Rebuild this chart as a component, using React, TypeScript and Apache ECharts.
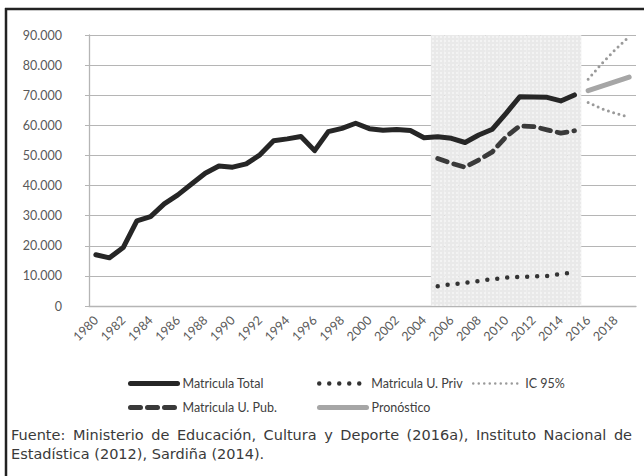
import React, { useEffect, useRef } from "react";
import * as echarts from "echarts";

const years: string[] = [];
for (let y = 1980; y <= 2019; y++) years.push(String(y));

const totalValues = [
  17000, 16000, 19400, 28300, 29700, 33900, 36900, 40500, 44100, 46500,
  46100, 47200, 50200, 54900, 55500, 56300, 51600, 57900, 59000, 60700,
  58900, 58400, 58600, 58300, 55900, 56200, 55700, 54300, 56800, 58700,
  64000, 69500, 69400, 69300, 68100, 70100,
];
const pubYears = ["2005", "2006", "2007", "2008", "2009", "2010", "2011", "2012", "2013", "2014", "2015"];
const pubValues = [49000, 47400, 46100, 48500, 51200, 56200, 59800, 59600, 58500, 57400, 58200];
const privValues = [6600, 7200, 7700, 8300, 8900, 9400, 9700, 9800, 10000, 10600, 11200];
const forecastYears = ["2016", "2017", "2018", "2019"];
const forecastValues = [71500, 73000, 74500, 76000];
const icUpperValues = [75300, 80500, 85200, 89500];
const icLowerValues = [67600, 65500, 64000, 62700];
const shadedYears = pubYears;
const shadeTop = 90000;

const sourceLine1 =
  "Fuente: Ministerio de Educación, Cultura y Deporte (2016a), Instituto Nacional de";
const sourceLine2 = "Estadística (2012), Sardiña (2014).";

function mapTo(yrs: string[], vals: number[]) {
  return years.map((y) => {
    const i = yrs.indexOf(y);
    return i >= 0 ? vals[i] : "-";
  });
}

const SRC_FONT = "DejaVu Sans";
const SRC_SIZE = 14.5;
const SRC_COLOR = "#3a3a3a";

function justifiedWords(text: string, x0: number, x1: number, y: number) {
  const canvas = document.createElement("canvas");
  const ctx = canvas.getContext("2d")!;
  ctx.font = `${SRC_SIZE}px "${SRC_FONT}"`;
  const words = text.split(" ");
  const widths = words.map((w) => ctx.measureText(w).width);
  const total = widths.reduce((a, b) => a + b, 0);
  const gap = (x1 - x0 - total) / (words.length - 1);
  let x = x0;
  return words.map((w, i) => {
    const el = {
      type: "text",
      x,
      y,
      style: {
        text: w,
        fontSize: SRC_SIZE,
        fontFamily: SRC_FONT,
        fill: SRC_COLOR,
        verticalAlign: "middle",
      },
    };
    x += widths[i] + gap;
    return el;
  });
}

export default function App() {
  const ref = useRef<HTMLDivElement>(null);
  useEffect(() => {
    if (!ref.current) return;
    const chart = echarts.init(ref.current, undefined, { renderer: "svg" });
    const totalData = years.map((_, i) => (i < totalValues.length ? totalValues[i] : "-"));
    const legendText = { color: "#404040", fontSize: 12.5, fontFamily: "Lato" };
    const mkLegend = (name: string, left: number, top: number, lw: number) => ({
      data: [name],
      left,
      top,
      padding: 0,
      itemWidth: 47,
      itemHeight: 10,
      textStyle: legendText,
      selectedMode: false,
      lineStyle: { width: lw },
      itemStyle: { opacity: 0 },
    });
    chart.setOption({
      animation: false,
      backgroundColor: "#ffffff",
      grid: { left: 89, right: 8, top: 35, bottom: 170 },
      xAxis: {
        type: "category",
        data: years,
        boundaryGap: true,
        axisLine: { lineStyle: { color: "#b5b5b5", width: 1.3 } },
        axisTick: { interval: 0, length: 4, lineStyle: { color: "#b5b5b5" } },
        axisLabel: {
          interval: 1,
          rotate: 45,
          color: "#595959",
          fontSize: 12.5,
          fontFamily: "Lato",
          margin: 12,
        },
      },
      yAxis: {
        type: "value",
        min: 0,
        max: 90000,
        interval: 10000,
        axisLine: { show: true, lineStyle: { color: "#b5b5b5", width: 1.3 } },
        axisTick: { show: true, length: 4, lineStyle: { color: "#b5b5b5" } },
        splitLine: { lineStyle: { color: "#b5b5b5", width: 1.2 } },
        axisLabel: {
          color: "#595959",
          fontSize: 12.5,
          fontFamily: "Lato",
          margin: 27,
          formatter: (v: number) => (v === 0 ? "0" : v / 1000 + ".000"),
        },
      },
      legend: [
        mkLegend("Matricula Total", 128, 377, 5),
        mkLegend("Matricula U. Priv", 317, 377, 4.5),
        mkLegend("IC 95%", 472, 377, 2.5),
        mkLegend("Matricula U. Pub.", 128, 401, 5),
        mkLegend("Pronóstico", 317, 401, 5),
      ],
      series: [
        {
          name: "shade",
          type: "bar",
          data: mapTo(shadedYears, shadedYears.map(() => shadeTop)),
          barCategoryGap: "0%",
          barGap: "-100%",
          silent: true,
          z: 0,
          itemStyle: {
            color: "#e9e9e9",
            decal: {
              symbol: "rect",
              symbolSize: 1,
              color: "rgba(255,255,255,0.45)",
              dashArrayX: [[2, 2]],
              dashArrayY: [2, 2],
              rotation: 0,
            },
          },
        },
        {
          name: "Matricula Total",
          type: "line",
          data: totalData,
          symbol: "none",
          z: 5,
          lineStyle: { color: "#262626", width: 5, join: "round", cap: "round" },
          itemStyle: { color: "#262626" },
        },
        {
          name: "Matricula U. Priv",
          type: "line",
          data: mapTo(pubYears, privValues),
          symbol: "none",
          z: 5,
          lineStyle: { color: "#333333", width: 4.5, type: [0, 10], cap: "round", join: "round" },
          itemStyle: { color: "#333333" },
        },
        {
          name: "IC 95%",
          type: "line",
          data: mapTo(forecastYears, icUpperValues),
          symbol: "none",
          z: 5,
          lineStyle: { color: "#9a9a9a", width: 3, type: [0, 5.5], cap: "round" },
          itemStyle: { color: "#9a9a9a" },
        },
        {
          name: "IC 95%",
          type: "line",
          data: mapTo(forecastYears, icLowerValues),
          symbol: "none",
          z: 5,
          lineStyle: { color: "#9a9a9a", width: 3, type: [0, 5.5], cap: "round" },
          itemStyle: { color: "#9a9a9a" },
        },
        {
          name: "Matricula U. Pub.",
          type: "line",
          data: mapTo(pubYears, pubValues),
          symbol: "none",
          z: 5,
          lineStyle: { color: "#3a3a3a", width: 4.8, type: [10, 7], cap: "round", join: "round" },
          itemStyle: { color: "#3a3a3a" },
        },
        {
          name: "Pronóstico",
          type: "line",
          data: mapTo(forecastYears, forecastValues),
          symbol: "none",
          z: 5,
          lineStyle: { color: "#a6a6a6", width: 5, cap: "round" },
          itemStyle: { color: "#a6a6a6" },
        },
      ],
      graphic: [
        {
          type: "line",
          shape: { x1: 5, y1: 9, x2: 644, y2: 9 },
          style: { stroke: "#222222", lineWidth: 2.5 },
        },
        {
          type: "line",
          shape: { x1: 6, y1: 8, x2: 6, y2: 476 },
          style: { stroke: "#222222", lineWidth: 2.5 },
        },
        ...justifiedWords(sourceLine1, 11, 632, 435),
        {
          type: "text",
          x: 11,
          y: 454,
          style: {
            text: sourceLine2,
            fontSize: SRC_SIZE,
            fontFamily: SRC_FONT,
            fill: SRC_COLOR,
            verticalAlign: "middle",
          },
        },
      ],
    });
    return () => chart.dispose();
  }, []);
  return (
    <div
      ref={ref}
      style={{ position: "fixed", left: 0, top: 0, width: 644, height: 476 }}
    />
  );
}
